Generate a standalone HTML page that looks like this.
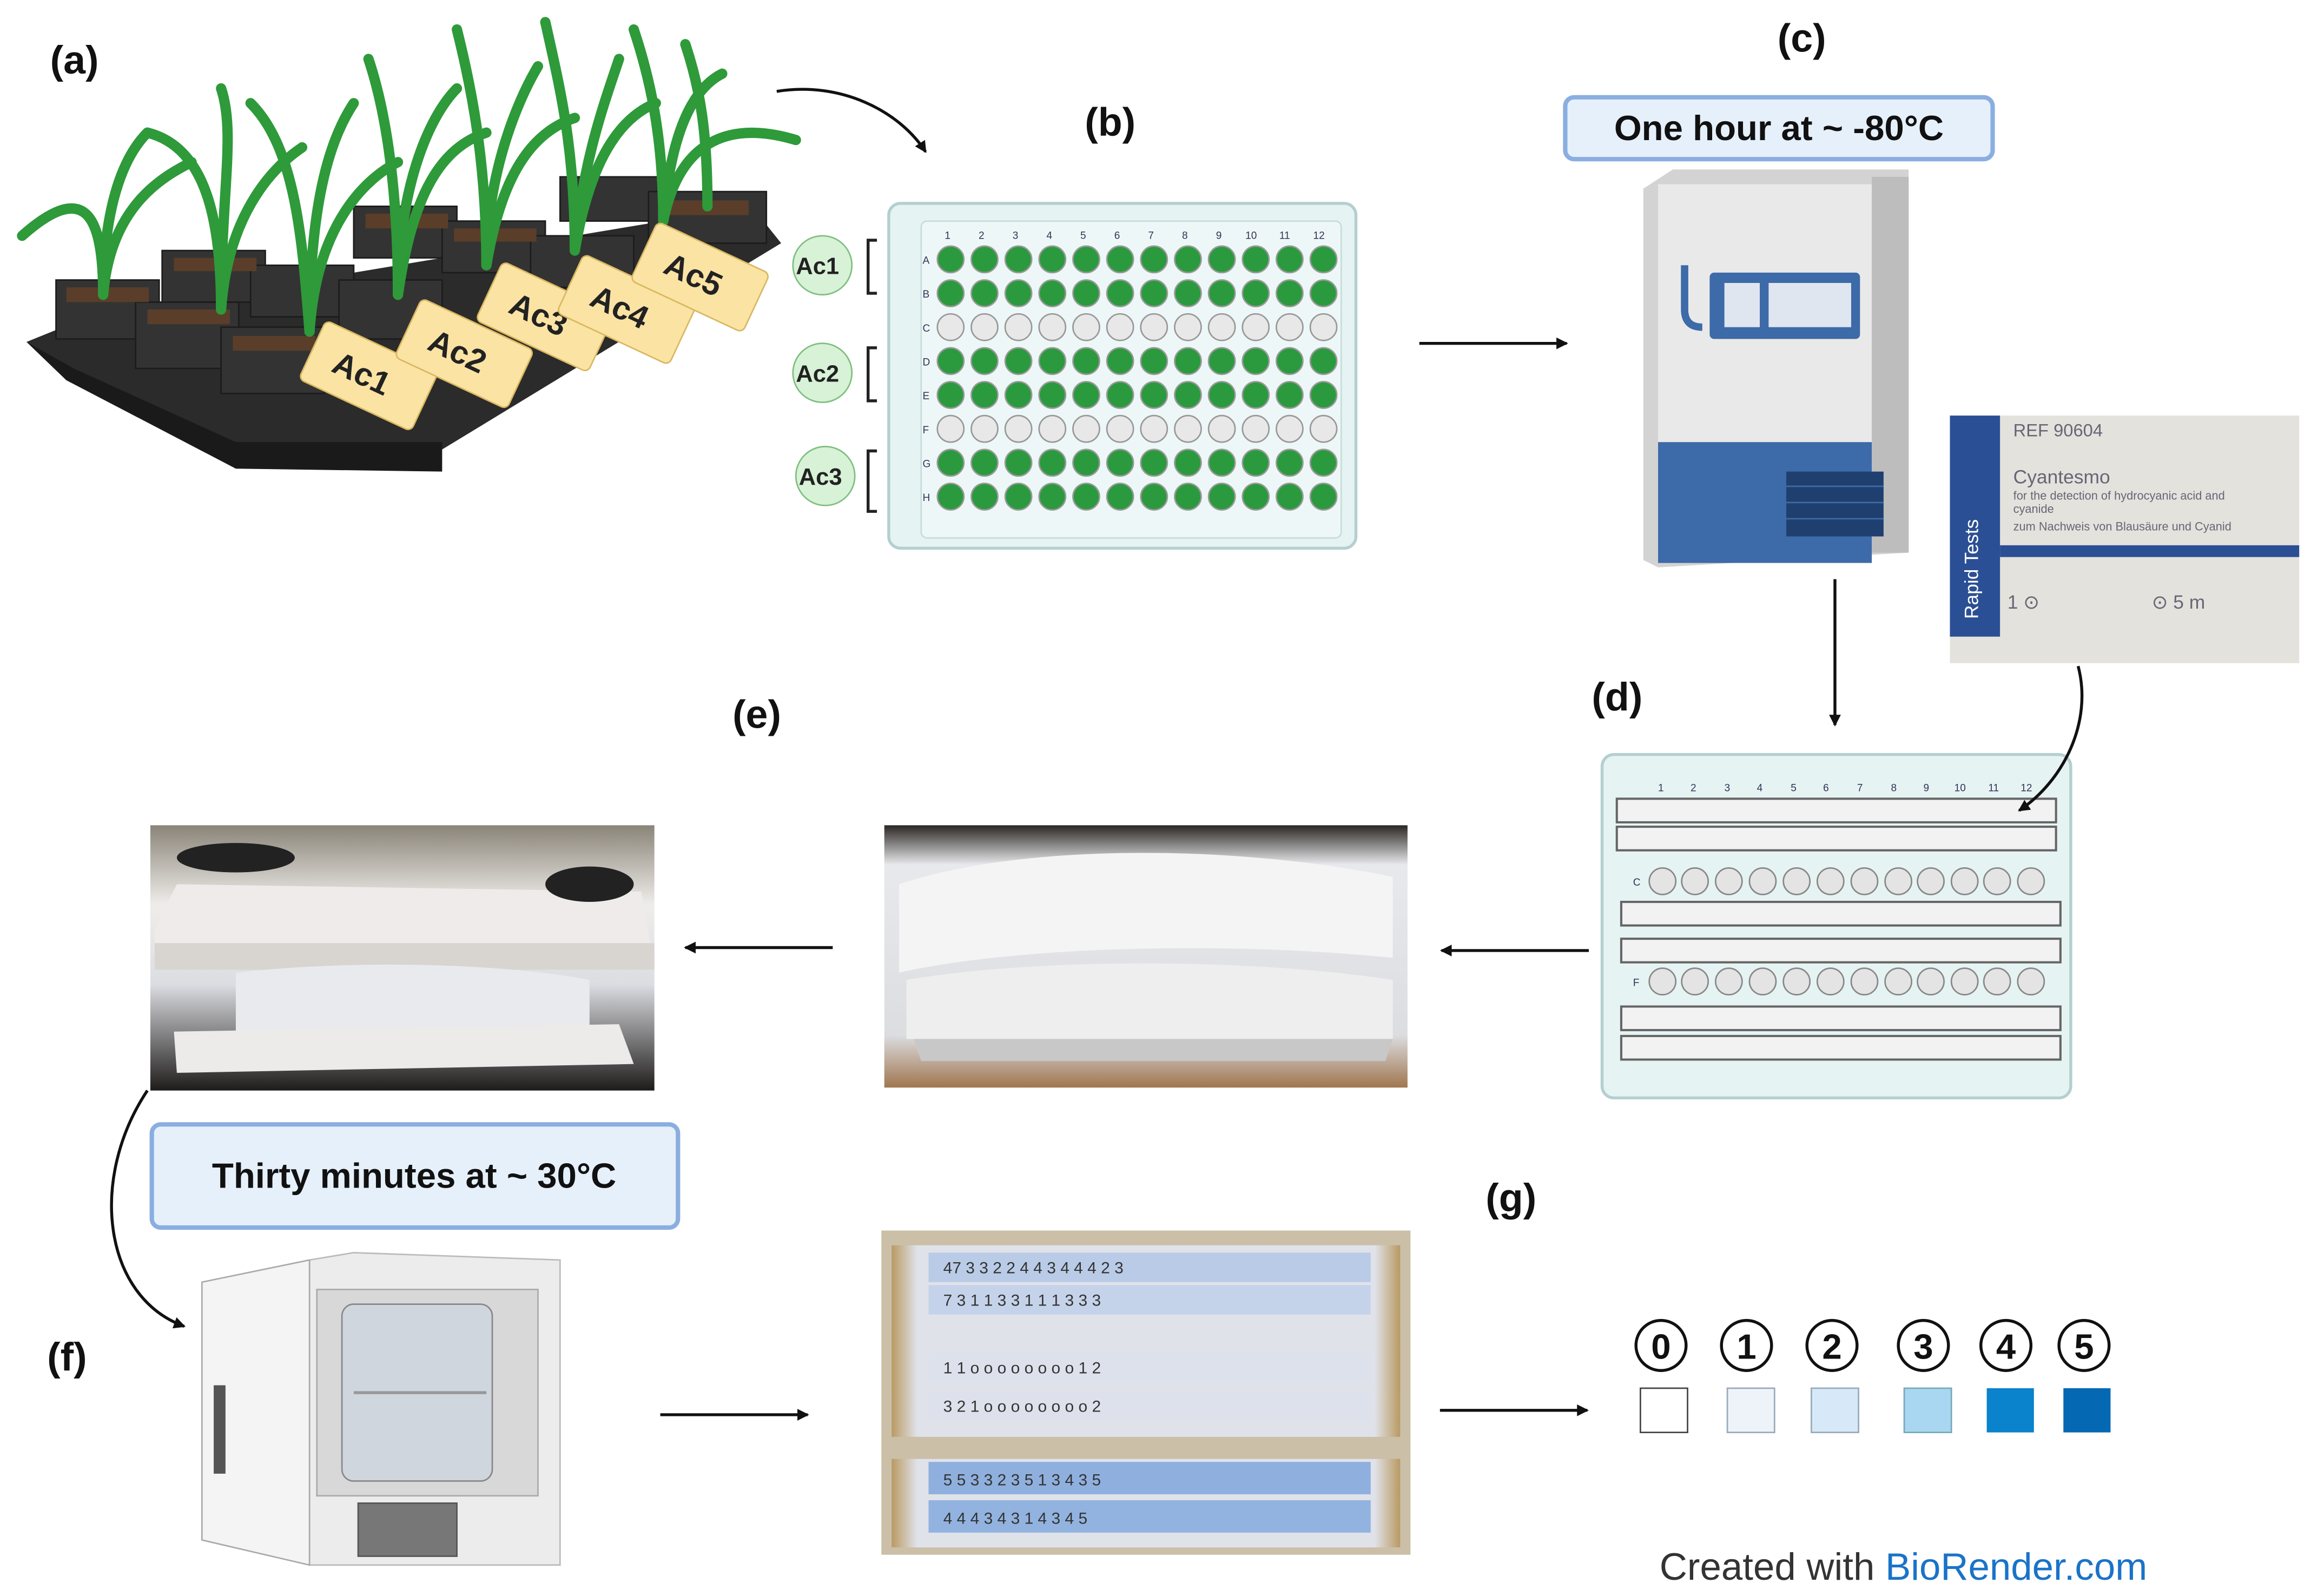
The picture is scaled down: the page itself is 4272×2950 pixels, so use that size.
<!DOCTYPE html>
<html><head><meta charset="utf-8"><style>
html,body{margin:0;padding:0;background:#fff}
svg{display:block}
text{font-family:"Liberation Sans",sans-serif}
</style></head><body>
<svg width="4272" height="2950" viewBox="0 0 1568 1083" preserveAspectRatio="none" xmlns="http://www.w3.org/2000/svg">
<defs>
<marker id="ah" markerWidth="8" markerHeight="8" refX="7" refY="4" orient="auto" markerUnits="userSpaceOnUse"><path d="M0,0 L8,4 L0,8 Z" fill="#111"/></marker>
<linearGradient id="ph1" x1="0" y1="0" x2="0" y2="1"><stop offset="0" stop-color="#8a8478"/><stop offset="0.3" stop-color="#efedea"/><stop offset="0.6" stop-color="#dcdde2"/><stop offset="1" stop-color="#1e1c1a"/></linearGradient>
<linearGradient id="ph2" x1="0" y1="0" x2="0" y2="1"><stop offset="0" stop-color="#2a2622"/><stop offset="0.15" stop-color="#e8e9ec"/><stop offset="0.8" stop-color="#dcdde0"/><stop offset="1" stop-color="#a07650"/></linearGradient>
<linearGradient id="ph3" x1="0" y1="0" x2="1" y2="0"><stop offset="0" stop-color="#b99a62"/><stop offset="0.05" stop-color="#e0e2ea"/><stop offset="0.95" stop-color="#e0e2ea"/><stop offset="1" stop-color="#b99a62"/></linearGradient>
</defs>
<rect width="1568" height="1083" fill="#fff"/>

<g font-weight="bold" font-size="27" fill="#111">
<text x="34" y="50">(a)</text>
<text x="736" y="92">(b)</text>
<text x="1206" y="35">(c)</text>
<text x="1080" y="482">(d)</text>
<text x="497" y="494">(e)</text>
<text x="32" y="930">(f)</text>
<text x="1008" y="822">(g)</text>
</g>

<!-- (a) tray -->
<polygon points="18,232 60,215 510,140 530,165 300,305 160,310 45,258" fill="#2b2b2b"/>
<polygon points="18,232 45,258 160,318 300,320 300,300 160,300 50,250" fill="#1a1a1a"/>
<g fill="#333" stroke="#1c1c1c">
<rect x="38" y="190" width="70" height="40"/><rect x="92" y="205" width="70" height="45"/><rect x="150" y="222" width="70" height="45"/>
<rect x="110" y="170" width="70" height="35"/><rect x="170" y="180" width="70" height="35"/><rect x="230" y="190" width="70" height="40"/>
<rect x="240" y="140" width="70" height="35"/><rect x="300" y="150" width="70" height="35"/><rect x="360" y="160" width="70" height="35"/>
<rect x="380" y="120" width="70" height="30"/><rect x="440" y="130" width="80" height="35"/>
</g>
<g fill="#5a3e2a"><rect x="45" y="195" width="56" height="10"/><rect x="100" y="210" width="56" height="10"/><rect x="158" y="228" width="56" height="10"/><rect x="248" y="145" width="56" height="10"/><rect x="448" y="136" width="60" height="10"/><rect x="118" y="175" width="56" height="9"/><rect x="308" y="155" width="56" height="9"/></g>
<g stroke="#2e9a3a" stroke-width="7" fill="none" stroke-linecap="round">
<path d="M70,200 C70,150 60,120 15,160"/><path d="M70,200 C75,140 110,120 130,110"/><path d="M70,200 C70,150 80,110 100,90"/>
<path d="M150,210 C150,150 140,100 100,90"/><path d="M150,210 C155,140 190,110 205,100"/><path d="M150,210 C150,130 160,90 150,60"/>
<path d="M210,225 C205,160 200,100 170,70"/><path d="M210,225 C215,150 250,120 270,110"/><path d="M210,225 C210,150 220,100 240,70"/>
<path d="M270,200 C270,120 260,70 250,40"/><path d="M270,200 C280,130 300,100 330,90"/><path d="M270,200 C270,130 290,80 310,60"/>
<path d="M330,180 C330,110 320,60 310,20"/><path d="M330,180 C340,120 360,90 390,80"/><path d="M330,180 C330,120 350,70 365,45"/>
<path d="M390,170 C390,100 380,60 370,15"/><path d="M390,170 C400,110 420,80 445,70"/><path d="M390,170 C395,110 410,70 420,40"/>
<path d="M450,150 C450,90 440,50 430,20"/><path d="M450,150 C460,100 490,80 540,95"/><path d="M450,150 C455,90 470,60 490,50"/>
<path d="M480,140 C480,90 475,60 465,30"/>
</g>
<g font-size="22" font-weight="bold" fill="#222">
<g transform="translate(250,255) rotate(25)"><rect x="-42" y="-22" width="84" height="44" rx="4" fill="#fbe3a4" stroke="#d8b860"/><text x="-25" y="8">Ac1</text></g>
<g transform="translate(315,240) rotate(25)"><rect x="-42" y="-22" width="84" height="44" rx="4" fill="#fbe3a4" stroke="#d8b860"/><text x="-25" y="8">Ac2</text></g>
<g transform="translate(370,215) rotate(25)"><rect x="-42" y="-22" width="84" height="44" rx="4" fill="#fbe3a4" stroke="#d8b860"/><text x="-25" y="8">Ac3</text></g>
<g transform="translate(425,210) rotate(25)"><rect x="-42" y="-22" width="84" height="44" rx="4" fill="#fbe3a4" stroke="#d8b860"/><text x="-25" y="8">Ac4</text></g>
<g transform="translate(475,188) rotate(25)"><rect x="-42" y="-22" width="84" height="44" rx="4" fill="#fbe3a4" stroke="#d8b860"/><text x="-25" y="8">Ac5</text></g>
</g>
<path d="M527,62 C570,55 610,75 628,103" stroke="#111" stroke-width="2" fill="none" marker-end="url(#ah)"/>

<!-- (b) plate -->
<rect x="603" y="138" width="317" height="234" rx="8" fill="#e6f3f3" stroke="#b5cfd0" stroke-width="2"/>
<rect x="625" y="150" width="285" height="215" rx="4" fill="#eef7f7" stroke="#c8dcdc"/>
<g font-size="7" fill="#335">
<text x="641" y="162">1</text><text x="664" y="162">2</text><text x="687" y="162">3</text><text x="710" y="162">4</text><text x="733" y="162">5</text><text x="756" y="162">6</text><text x="779" y="162">7</text><text x="802" y="162">8</text><text x="825" y="162">9</text><text x="845" y="162">10</text><text x="868" y="162">11</text><text x="891" y="162">12</text>
<text x="626" y="179">A</text><text x="626" y="202">B</text><text x="626" y="225">C</text><text x="626" y="248">D</text><text x="626" y="271">E</text><text x="626" y="294">F</text><text x="626" y="317">G</text><text x="626" y="340">H</text>
</g>
<g id="rowg">
<g stroke="#999" stroke-width="1">
<circle cx="645" cy="176" r="9" fill="#2b9a3e"/><circle cx="668" cy="176" r="9" fill="#2b9a3e"/><circle cx="691" cy="176" r="9" fill="#2b9a3e"/><circle cx="714" cy="176" r="9" fill="#2b9a3e"/><circle cx="737" cy="176" r="9" fill="#2b9a3e"/><circle cx="760" cy="176" r="9" fill="#2b9a3e"/><circle cx="783" cy="176" r="9" fill="#2b9a3e"/><circle cx="806" cy="176" r="9" fill="#2b9a3e"/><circle cx="829" cy="176" r="9" fill="#2b9a3e"/><circle cx="852" cy="176" r="9" fill="#2b9a3e"/><circle cx="875" cy="176" r="9" fill="#2b9a3e"/><circle cx="898" cy="176" r="9" fill="#2b9a3e"/>
</g></g>
<use href="#rowg" y="23"/><use href="#rowg" y="69"/><use href="#rowg" y="92"/><use href="#rowg" y="138"/><use href="#rowg" y="161"/>
<g id="rowe" fill="#e8e8e8" stroke="#999">
<circle cx="645" cy="222" r="9"/><circle cx="668" cy="222" r="9"/><circle cx="691" cy="222" r="9"/><circle cx="714" cy="222" r="9"/><circle cx="737" cy="222" r="9"/><circle cx="760" cy="222" r="9"/><circle cx="783" cy="222" r="9"/><circle cx="806" cy="222" r="9"/><circle cx="829" cy="222" r="9"/><circle cx="852" cy="222" r="9"/><circle cx="875" cy="222" r="9"/><circle cx="898" cy="222" r="9"/>
</g>
<use href="#rowe" y="69"/>
<g stroke="#222" stroke-width="2" fill="none">
<path d="M595,163 H589 V199 H595"/><path d="M595,236 H589 V272 H595"/><path d="M595,306 H589 V347 H595"/>
</g>
<g font-size="16" font-weight="bold" fill="#222">
<circle cx="558" cy="180" r="20" fill="#d7f2d7" stroke="#7fbf7f"/><text x="540" y="186">Ac1</text>
<circle cx="558" cy="253" r="20" fill="#d7f2d7" stroke="#7fbf7f"/><text x="540" y="259">Ac2</text>
<circle cx="560" cy="323" r="20" fill="#d7f2d7" stroke="#7fbf7f"/><text x="542" y="329">Ac3</text>
</g>
<line x1="963" y1="233" x2="1063" y2="233" stroke="#111" stroke-width="2" marker-end="url(#ah)"/>

<!-- (c) -->
<rect x="1062" y="66" width="290" height="42" rx="6" fill="#e6f0fb" stroke="#8aaee0" stroke-width="3"/>
<text x="1207" y="95" font-size="24" font-weight="bold" text-anchor="middle" fill="#111">One hour at ~ -80°C</text>
<polygon points="1115,128 1135,115 1295,115 1295,375 1125,385 1115,380" fill="#d3d3d3"/>
<rect x="1125" y="125" width="145" height="180" fill="#e9e9e9"/>
<rect x="1125" y="300" width="145" height="82" fill="#3d6aa8"/>
<rect x="1270" y="120" width="25" height="255" fill="#bdbdbd"/>
<rect x="1160" y="185" width="102" height="45" rx="3" fill="#3d6aa8"/>
<rect x="1200" y="192" width="56" height="30" fill="#dfe6ef"/>
<rect x="1170" y="192" width="24" height="30" fill="#dfe6ef"/>
<path d="M1143,180 V210 Q1143,222 1155,222" stroke="#3d6aa8" stroke-width="5" fill="none"/>
<rect x="1212" y="320" width="66" height="44" fill="#1f3f6e"/>
<g stroke="#3d6aa8" stroke-width="1"><line x1="1212" y1="330" x2="1278" y2="330"/><line x1="1212" y1="341" x2="1278" y2="341"/><line x1="1212" y1="352" x2="1278" y2="352"/></g>
<line x1="1245" y1="393" x2="1245" y2="492" stroke="#111" stroke-width="2" marker-end="url(#ah)"/>

<!-- photo label -->
<rect x="1323" y="282" width="237" height="168" fill="#e4e2dc"/>
<rect x="1323" y="282" width="34" height="150" fill="#2b4f94"/>
<rect x="1357" y="370" width="203" height="8" fill="#2b4f94"/>
<text transform="translate(1342,420) rotate(-90)" font-size="13" fill="#fff">Rapid Tests</text>
<text x="1366" y="296" font-size="12" fill="#667">REF 90604</text>
<text x="1366" y="328" font-size="13" fill="#667">Cyantesmo</text>
<text x="1366" y="339" font-size="8" fill="#667">for the detection of hydrocyanic acid and</text>
<text x="1366" y="348" font-size="8" fill="#667">cyanide</text>
<text x="1366" y="360" font-size="8" fill="#667">zum Nachweis von Blausäure und Cyanid</text>
<text x="1362" y="413" font-size="13" fill="#667">1 ⊙</text>
<text x="1460" y="413" font-size="13" fill="#667">⊙ 5 m</text>

<!-- (d) plate -->
<rect x="1087" y="512" width="318" height="233" rx="8" fill="#e6f3f3" stroke="#b5cfd0" stroke-width="2"/>
<g font-size="7" fill="#335"><text x="1125" y="537">1</text><text x="1147" y="537">2</text><text x="1170" y="537">3</text><text x="1192" y="537">4</text><text x="1215" y="537">5</text><text x="1237" y="537">6</text><text x="1260" y="537">7</text><text x="1283" y="537">8</text><text x="1305" y="537">9</text><text x="1326" y="537">10</text><text x="1349" y="537">11</text><text x="1371" y="537">12</text><text x="1108" y="601">C</text><text x="1108" y="669">F</text></g>
<g fill="#f2f2f2" stroke="#666" stroke-width="1.5">
<rect x="1097" y="542" width="298" height="16"/><rect x="1097" y="561" width="298" height="16"/>
<rect x="1100" y="612" width="298" height="16"/><rect x="1100" y="637" width="298" height="16"/>
<rect x="1100" y="683" width="298" height="16"/><rect x="1100" y="703" width="298" height="16"/>
</g>
<g id="rowd" fill="#e4e4e4" stroke="#888"><circle cx="1128" cy="598" r="9"/><circle cx="1150" cy="598" r="9"/><circle cx="1173" cy="598" r="9"/><circle cx="1196" cy="598" r="9"/><circle cx="1219" cy="598" r="9"/><circle cx="1242" cy="598" r="9"/><circle cx="1265" cy="598" r="9"/><circle cx="1288" cy="598" r="9"/><circle cx="1310" cy="598" r="9"/><circle cx="1333" cy="598" r="9"/><circle cx="1355" cy="598" r="9"/><circle cx="1378" cy="598" r="9"/></g>
<use href="#rowd" y="68"/>
<path d="M1410,452 C1420,490 1400,530 1370,550" stroke="#111" stroke-width="2" fill="none" marker-end="url(#ah)"/>
<line x1="1078" y1="645" x2="978" y2="645" stroke="#111" stroke-width="2" marker-end="url(#ah)"/>

<!-- (e) photos -->
<rect x="600" y="560" width="355" height="178" fill="url(#ph2)"/>
<path d="M610,600 C700,570 850,575 945,595 L945,650 C850,640 700,640 610,660 Z" fill="#f4f4f4"/>
<path d="M615,665 C700,650 850,650 945,665 L945,705 L615,705 Z" fill="#eeeeef"/>
<path d="M620,705 L945,705 L940,720 L625,720 Z" fill="#c8c8c8"/>
<line x1="565" y1="643" x2="465" y2="643" stroke="#111" stroke-width="2" marker-end="url(#ah)"/>
<rect x="102" y="560" width="342" height="180" fill="url(#ph1)"/>
<polygon points="105,630 120,600 435,605 444,655 105,640" fill="#eeebea"/>
<rect x="105" y="640" width="339" height="18" fill="#d8d4d0"/>
<path d="M160,660 C250,650 350,655 400,665 L400,700 L160,700 Z" fill="#e9eaee"/>
<polygon points="118,700 420,695 430,722 120,728" fill="#ecebea"/>
<ellipse cx="160" cy="582" rx="40" ry="10" fill="#222"/><ellipse cx="400" cy="600" rx="30" ry="12" fill="#222"/>

<!-- (f) -->
<rect x="103" y="763" width="357" height="70" rx="6" fill="#e6f0fb" stroke="#8aaee0" stroke-width="3"/>
<text x="281" y="806" font-size="24" font-weight="bold" text-anchor="middle" fill="#111">Thirty minutes at ~ 30°C</text>
<path d="M100,740 C60,800 70,880 125,900" stroke="#111" stroke-width="2" fill="none" marker-end="url(#ah)"/>
<polygon points="210,855 240,850 380,855 380,1062 210,1062" fill="#ececec" stroke="#bbb"/>
<rect x="215" y="875" width="150" height="140" fill="#d8d8d8" stroke="#aaa"/>
<rect x="232" y="885" width="102" height="120" rx="8" fill="#cfd6de" stroke="#888"/>
<line x1="240" y1="945" x2="330" y2="945" stroke="#999" stroke-width="2"/>
<polygon points="137,870 210,855 210,1062 137,1045" fill="#f4f4f4" stroke="#aaa"/>
<rect x="145" y="940" width="8" height="60" fill="#555"/>
<rect x="243" y="1020" width="67" height="36" fill="#777" stroke="#555"/>
<line x1="448" y1="960" x2="548" y2="960" stroke="#111" stroke-width="2" marker-end="url(#ah)"/>

<!-- (g) photo -->
<rect x="598" y="835" width="359" height="220" fill="#cbbfa8"/>
<rect x="605" y="845" width="345" height="100" fill="url(#ph3)"/>
<rect x="605" y="990" width="345" height="60" fill="url(#ph3)"/>
<rect x="605" y="905" width="345" height="70" fill="url(#ph3)"/>
<rect x="630" y="850" width="300" height="20" fill="#b9cbe6"/>
<rect x="630" y="872" width="300" height="20" fill="#c5d3ea"/>
<rect x="630" y="918" width="300" height="20" fill="#dde1ec"/>
<rect x="630" y="944" width="300" height="20" fill="#dde1ec"/>
<rect x="630" y="992" width="300" height="22" fill="#8fb0de"/>
<rect x="630" y="1018" width="300" height="22" fill="#92b3df"/>
<g font-size="11" fill="#333"><text x="640" y="864">47 3  3  2  2  4  4  3  4  4  4  2  3</text><text x="640" y="886">7  3  1  1  3  3  1  1  1  3  3  3</text><text x="640" y="932">1  1  o  o  o  o  o  o  o  o  1  2</text><text x="640" y="958">3  2  1  o  o  o  o  o  o  o  o  2</text><text x="640" y="1008">5  5  3  3  2  3  5  1  3  4  3  5</text><text x="640" y="1034">4  4  4  3  4  3  1  4  3  4  5</text></g>
<line x1="977" y1="957" x2="1077" y2="957" stroke="#111" stroke-width="2" marker-end="url(#ah)"/>

<!-- scale -->
<g font-size="24" font-weight="bold" fill="#111" text-anchor="middle" stroke-width="2">
<circle cx="1127" cy="913" r="17" fill="#fff" stroke="#111"/><text x="1127" y="922">0</text>
<circle cx="1185" cy="913" r="17" fill="#fff" stroke="#111"/><text x="1185" y="922">1</text>
<circle cx="1243" cy="913" r="17" fill="#fff" stroke="#111"/><text x="1243" y="922">2</text>
<circle cx="1305" cy="913" r="17" fill="#fff" stroke="#111"/><text x="1305" y="922">3</text>
<circle cx="1361" cy="913" r="17" fill="#fff" stroke="#111"/><text x="1361" y="922">4</text>
<circle cx="1414" cy="913" r="17" fill="#fff" stroke="#111"/><text x="1414" y="922">5</text>
</g>
<rect x="1113" y="942" width="32" height="30" fill="#fff" stroke="#444"/>
<rect x="1172" y="942" width="32" height="30" fill="#eef3fa" stroke="#9ab"/>
<rect x="1229" y="942" width="32" height="30" fill="#d7e9f8" stroke="#9ab"/>
<rect x="1292" y="942" width="32" height="30" fill="#a9d6f0" stroke="#7ab"/>
<rect x="1348" y="942" width="32" height="30" fill="#0a82cc"/>
<rect x="1400" y="942" width="32" height="30" fill="#0568b3"/>

<text x="1126" y="1072" font-size="26" fill="#333">Created with <tspan fill="#1a73c8">BioRender.com</tspan></text>
</svg>
</body></html>
